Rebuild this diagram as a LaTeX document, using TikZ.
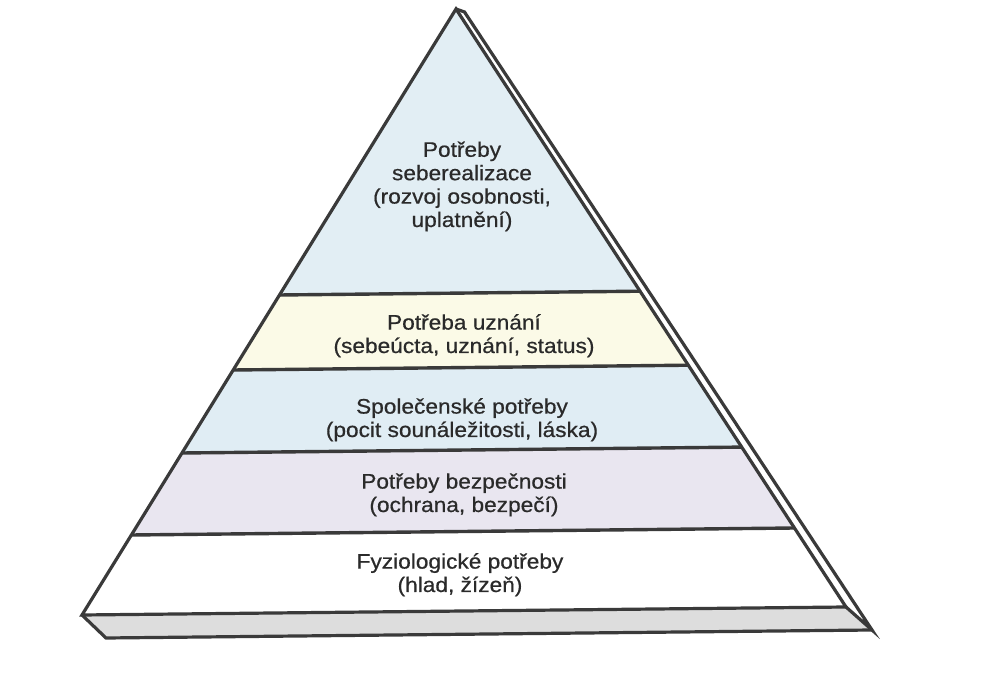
\documentclass[tikz,border=0pt]{standalone}
\usepackage{fontspec}
\setmainfont{Liberation Sans}[FakeStretch=1.08,FakeBold=0.6]
\definecolor{linec}{HTML}{3A3A3A}
\definecolor{textc}{HTML}{2A2A2A}
\definecolor{topc}{HTML}{E2EEF4}
\definecolor{creamc}{HTML}{FBFAE7}
\definecolor{bluec}{HTML}{E0EDF4}
\definecolor{lavc}{HTML}{E9E6F0}
\definecolor{stripc}{HTML}{DDDDDD}
\begin{document}
\begin{tikzpicture}[x=1pt,y=-1pt,line join=miter,
  edge/.style={draw=linec,line width=3.2pt},
  divider/.style={draw=linec,line width=3.4pt},
  lbl/.style={text=textc,align=center,inner sep=0pt,anchor=base,
    font=\fontsize{21}{23.4}\selectfont}]
\useasboundingbox (0,0) rectangle (989,692);
% main corners
\coordinate (A) at (456,9);
\coordinate (O) at (464.5,12);
\coordinate (BL) at (82,615);
\coordinate (BR) at (846,607);
\coordinate (SO) at (872,630);
\coordinate (SB) at (106,638);
% band dividers
\coordinate (L1) at (279.5,295);  \coordinate (R1) at (640,291.2);
\coordinate (L2) at (233.3,370);  \coordinate (R2) at (688.2,365.2);
\coordinate (L3) at (182,453);    \coordinate (R3) at (741.6,447.1);
\coordinate (L4) at (131.5,535);  \coordinate (R4) at (794.4,528);
% fills
\fill[topc] (A) -- (R1) -- (L1) -- cycle;
\fill[creamc] (L1) -- (R1) -- (R2) -- (L2) -- cycle;
\fill[bluec] (L2) -- (R2) -- (R3) -- (L3) -- cycle;
\fill[lavc] (L3) -- (R3) -- (R4) -- (L4) -- cycle;
\fill[white] (L4) -- (R4) -- (BR) -- (BL) -- cycle;
\fill[stripc] (BL) -- (BR) -- (SO) -- (SB) -- cycle;
\fill[white] (A) -- (O) -- (SO) -- (BR) -- cycle;
% dividers
\draw[divider] (L1) -- (R1);
\draw[divider] (L2) -- (R2);
\draw[divider] (L3) -- (R3);
\draw[divider] (L4) -- (R4);
% outlines
\draw[edge] (A) -- (BR) -- (BL) -- cycle;
\draw[edge] (A) -- (O) -- (SO) -- (BR);
\draw[edge] (BL) -- (SB) -- (SO);
% labels (anchor base = baseline of the last line)
\node[lbl] (t1) at (462,227) {Potřeby\\seberealizace\\(rozvoj osobnosti,\\uplatnění)};
\node[lbl] (t2) at (464,353) {Potřeba uznání\\(sebeúcta, uznání, status)};
\node[lbl] (t3) at (462,437) {Společenské potřeby\\(pocit sounáležitosti, láska)};
\node[lbl] (t4) at (464,512) {Potřeby bezpečnosti\\(ochrana, bezpečí)};
\node[lbl] (t5) at (460,592) {Fyziologické potřeby\\(hlad, žízeň)};
\end{tikzpicture}
\end{document}
